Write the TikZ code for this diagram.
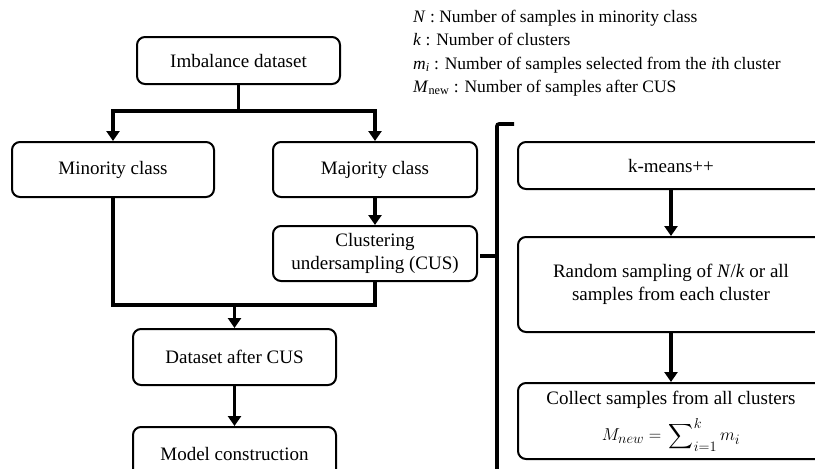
\documentclass[tikz,border=0pt]{standalone}
\usepackage{amsmath}
\usepackage{fontspec}
\setmainfont{Liberation Serif}
\usetikzlibrary{arrows.meta}
\begin{document}
\begin{tikzpicture}[x=1pt,y=-1pt,
  box/.style={draw=black, line width=2pt, rounded corners=8pt, align=center,
    inner sep=0pt, font=\fontsize{19}{23}\selectfont},
  link/.style={line width=3.6pt},
  arr/.style={line width=3.6pt, -{Triangle[width=13pt,length=10pt]}},
]
\useasboundingbox (0,0) rectangle (815,469);
\clip (0,0) rectangle (815,469);

% legend
\node[anchor=west, align=left, inner sep=0pt, font=\fontsize{17.5}{23.4}\selectfont] (legend) at (413,53)
  {\textit{N} : Number of samples in minority class\\
   \textit{k} : Number of clusters\\
   \textit{m}\textsubscript{\textit{i}} : Number of samples selected from the \textit{i}th cluster\\
   \textit{M}\textsubscript{new} : Number of samples after CUS};

% left flow
\node[box, minimum width=203pt, minimum height=47pt] (imb) at (238.5,60.5) {Imbalance dataset};
\node[box, minimum width=202pt, minimum height=55pt] (mino) at (113,169.5) {Minority class};
\node[box, minimum width=204pt, minimum height=55pt] (majo) at (375,169.5) {Majority class};
\node[box, minimum width=204pt, minimum height=55pt] (clus) at (375,253.5) {Clustering\\undersampling (CUS)};
\node[box, minimum width=203pt, minimum height=56pt] (dacus) at (234.5,357) {Dataset after CUS};
\node[box, minimum width=203pt, minimum height=54pt] (model) at (234.5,454) {Model construction};

% right flow
\node[box, minimum width=306pt, minimum height=47pt] (kmeans) at (671,165.5) {k-means++};
\node[box, minimum width=306pt, minimum height=95pt] (rand) at (671,284.5) {Random sampling of \textit{N}/\textit{k} or all\\samples from each cluster};
\node[box, minimum width=306pt, minimum height=76pt] (coll) at (671,421)
  {Collect samples from all clusters\\[9pt]
   $\displaystyle M_{new} = \,\sum\nolimits_{i=1}^{k} m_i$};

% connectors
\coordinate (j1) at (238.5,111);
\draw[link] (imb.south) -- (j1);
\draw[arr] (j1) -| (mino.north);
\draw[arr] (j1) -| (majo.north);
\draw[arr] (majo.south) -- (clus.north);
\coordinate (j2) at (234.5,305);
\draw[link] (mino.south) |- (j2);
\draw[link] (clus.south) |- (j2);
\draw[arr] (j2) -- (dacus.north);
\draw[arr] (dacus.south) -- (model.north);
\draw[arr] (kmeans.south) -- (rand.north);
\draw[arr] (rand.south) -- (coll.north);

% brace
\coordinate (bt) at (514,124);
\coordinate (bb) at (497,480);
\coordinate (btip) at (clus.east);
\draw[line width=3.6pt, rounded corners=2pt] (bt) -- (bt -| bb) -- (bb);
\draw[line width=3.6pt] ([xshift=2pt]btip |- 0,256) -- (497,256);
\end{tikzpicture}
\end{document}
